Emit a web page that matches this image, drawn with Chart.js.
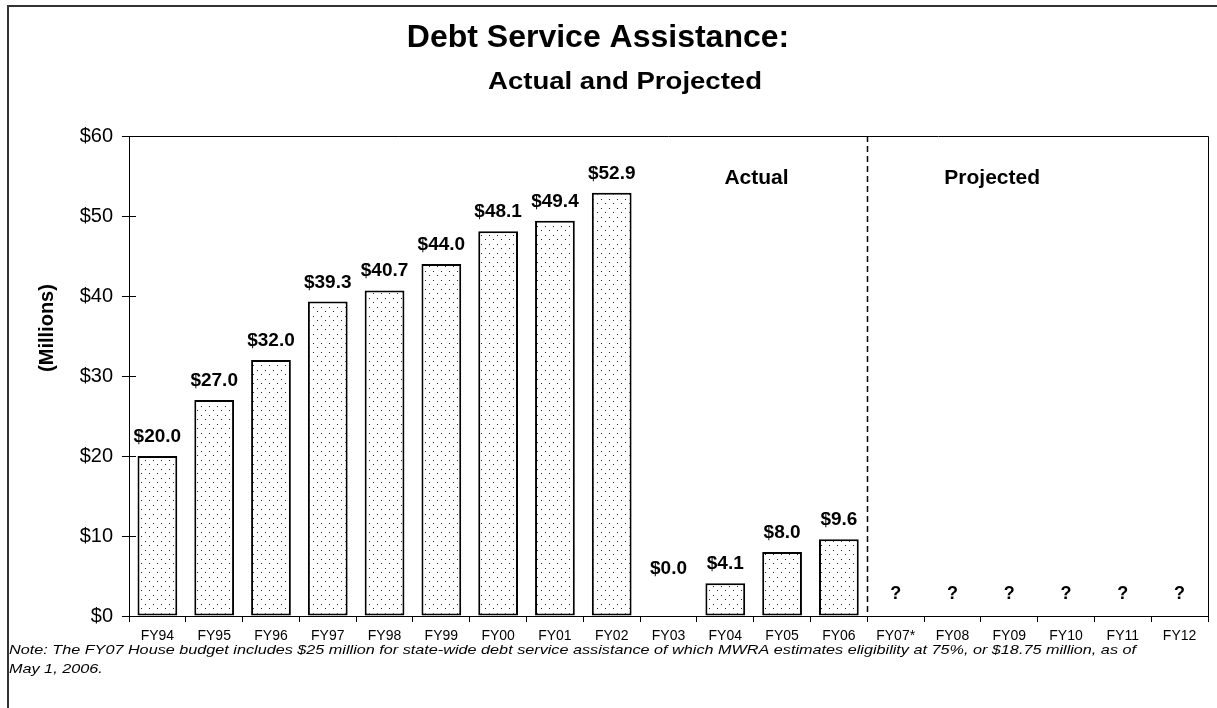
<!DOCTYPE html>
<html><head><meta charset="utf-8">
<script src="https://cdn.jsdelivr.net/npm/chart.js@4"></script>
<style>html,body{margin:0;padding:0;background:#fff}#wrap{width:1217px;height:708px;position:relative}</style>
</head><body><div id="wrap"><canvas id="c" width="1217" height="708"></canvas></div>
<script>
const categories = ['FY94','FY95','FY96','FY97','FY98','FY99','FY00','FY01','FY02','FY03','FY04','FY05','FY06','FY07*','FY08','FY09','FY10','FY11','FY12'];
const values = [20.0, 27.0, 32.0, 39.3, 40.7, 44.0, 48.1, 49.4, 52.9, 0.0, 4.1, 8.0, 9.6, null, null, null, null, null, null];
const projectedMarks = ['', '', '', '', '', '', '', '', '', '', '', '', '', '?', '?', '?', '?', '?', '?'];
const yTickValues = [0, 10, 20, 30, 40, 50, 60];
const titleText = 'Debt Service Assistance:';
const subtitleText = 'Actual and Projected';
const yTitleText = '(Millions)';
const actualText = 'Actual';
const projectedText = 'Projected';
const projectedStartIndex = 13;
const noteLines = [
  'Note: The FY07 House budget includes $25 million for state-wide debt service assistance of which MWRA estimates eligibility at 75%, or $18.75 million, as of',
  'May 1, 2006.'
];

const FONT = "'Liberation Sans', Arial, sans-serif";

function makePattern() {
  const p = document.createElement('canvas');
  p.width = 8; p.height = 9;
  const g = p.getContext('2d');
  g.fillStyle = '#fff'; g.fillRect(0, 0, 8, 9);
  g.fillStyle = '#222';
  g.fillRect(1, 1, 1, 1);
  g.fillRect(5, 5, 1, 1);
  return document.getElementById('c').getContext('2d').createPattern(p, 'repeat');
}

function fitText(ctx, text, x, y, width) {
  const w = ctx.measureText(text).width;
  const sx = width / w;
  ctx.save();
  ctx.translate(x, y);
  ctx.scale(sx, 1);
  ctx.fillText(text, 0, 0);
  ctx.restore();
}

const overlay = {
  id: 'overlay',
  afterDraw(chart) {
    const ctx = chart.ctx;
    const ca = chart.chartArea;
    const xs = chart.scales.x, ys = chart.scales.y;
    ctx.save();
    // outer frame (top + left)
    ctx.strokeStyle = '#333'; ctx.lineWidth = 2;
    ctx.beginPath(); ctx.moveTo(8, 708); ctx.lineTo(8, 6); ctx.lineTo(1217, 6); ctx.stroke();
    // plot box top/right
    ctx.strokeStyle = '#000'; ctx.lineWidth = 1;
    ctx.beginPath(); ctx.moveTo(ca.left, ca.top + 0.5); ctx.lineTo(ca.right + 0.5, ca.top + 0.5); ctx.lineTo(ca.right + 0.5, ca.bottom); ctx.stroke();
    // inner part of y ticks
    yTickValues.forEach(v => {
      const y = Math.round(ys.getPixelForValue(v)) + 0.5;
      ctx.beginPath(); ctx.moveTo(ca.left, y); ctx.lineTo(ca.left + 7, y); ctx.stroke();
    });
    // dashed divider
    const dx = Math.round((xs.getPixelForValue(projectedStartIndex - 1) + xs.getPixelForValue(projectedStartIndex)) / 2) + 0.5;
    ctx.setLineDash([6, 4]); ctx.lineWidth = 1.5;
    ctx.beginPath(); ctx.moveTo(dx, ca.top); ctx.lineTo(dx, ca.bottom); ctx.stroke();
    ctx.setLineDash([]);
    // value labels
    ctx.fillStyle = '#000';
    ctx.textAlign = 'center'; ctx.textBaseline = 'alphabetic';
    ctx.font = 'bold 19px ' + FONT;
    values.forEach((v, i) => {
      if (v === null) return;
      const x = xs.getPixelForValue(i);
      const top = ys.getPixelForValue(v);
      const y = Math.min(top - 14, ca.bottom - 42);
      ctx.fillText('$' + v.toFixed(1), x, y);
    });
    // question marks
    ctx.font = 'bold 18px ' + FONT;
    projectedMarks.forEach((m, i) => {
      if (!m) return;
      ctx.fillText(m, xs.getPixelForValue(i), ca.bottom - 17);
    });
    // section labels
    ctx.font = 'bold 21px ' + FONT;
    ctx.fillText(actualText, xs.getPixelForValue(10.55), 184);
    ctx.fillText(projectedText, xs.getPixelForValue(14.7), 184);
    // titles
    ctx.font = 'bold 32px ' + FONT;
    ctx.fillText(titleText, 598, 47);
    ctx.font = 'bold 24px ' + FONT;
    ctx.textAlign = 'left';
    fitText(ctx, subtitleText, 488, 89, 274);
    ctx.textAlign = 'center';
    // y title
    ctx.save();
    ctx.translate(47, 328); ctx.rotate(-Math.PI / 2);
    ctx.font = 'bold 20px ' + FONT;
    ctx.textBaseline = 'middle';
    ctx.fillText(yTitleText, 0, 0);
    ctx.restore();
    // note
    ctx.textAlign = 'left';
    ctx.font = 'italic 13px ' + FONT;
    fitText(ctx, noteLines[0], 9, 654, 1127);
    const s = 1127 / ctx.measureText(noteLines[0]).width;
    fitText(ctx, noteLines[1], 9, 673, ctx.measureText(noteLines[1]).width * s);
    ctx.restore();
  }
};

new Chart(document.getElementById('c'), {
  type: 'bar',
  data: {
    labels: categories,
    datasets: [{
      data: values,
      backgroundColor: makePattern(),
      borderColor: '#000',
      borderWidth: 2,
      borderSkipped: false,
      barPercentage: 0.7,
      categoryPercentage: 1.0
    }]
  },
  options: {
    responsive: false,
    animation: false,
    devicePixelRatio: 1,
    layout: { padding: { left: 0, top: 136, right: 9, bottom: 62 } },
    plugins: { legend: { display: false }, tooltip: { enabled: false }, title: { display: false } },
    scales: {
      x: {
        offset: true,
        grid: { display: true, drawOnChartArea: false, drawTicks: true, tickLength: 6, color: '#000', offset: true },
        border: { display: true, color: '#000', width: 1 },
        ticks: { color: '#000', font: { family: FONT, size: 14 }, padding: 6, maxRotation: 0, autoSkip: false },
        afterFit: s => { s.height = 30; }
      },
      y: {
        min: 0, max: 60,
        afterBuildTicks: s => { s.ticks = yTickValues.map(v => ({ value: v })); },
        grid: { drawOnChartArea: false, drawTicks: true, tickLength: 7, color: '#000' },
        border: { display: true, color: '#000', width: 1 },
        ticks: { color: '#000', font: { family: FONT, size: 20 }, padding: 9, callback: v => '$' + v },
        afterFit: s => { s.width = 129; }
      }
    }
  },
  plugins: [overlay]
});
</script>
</body></html>
